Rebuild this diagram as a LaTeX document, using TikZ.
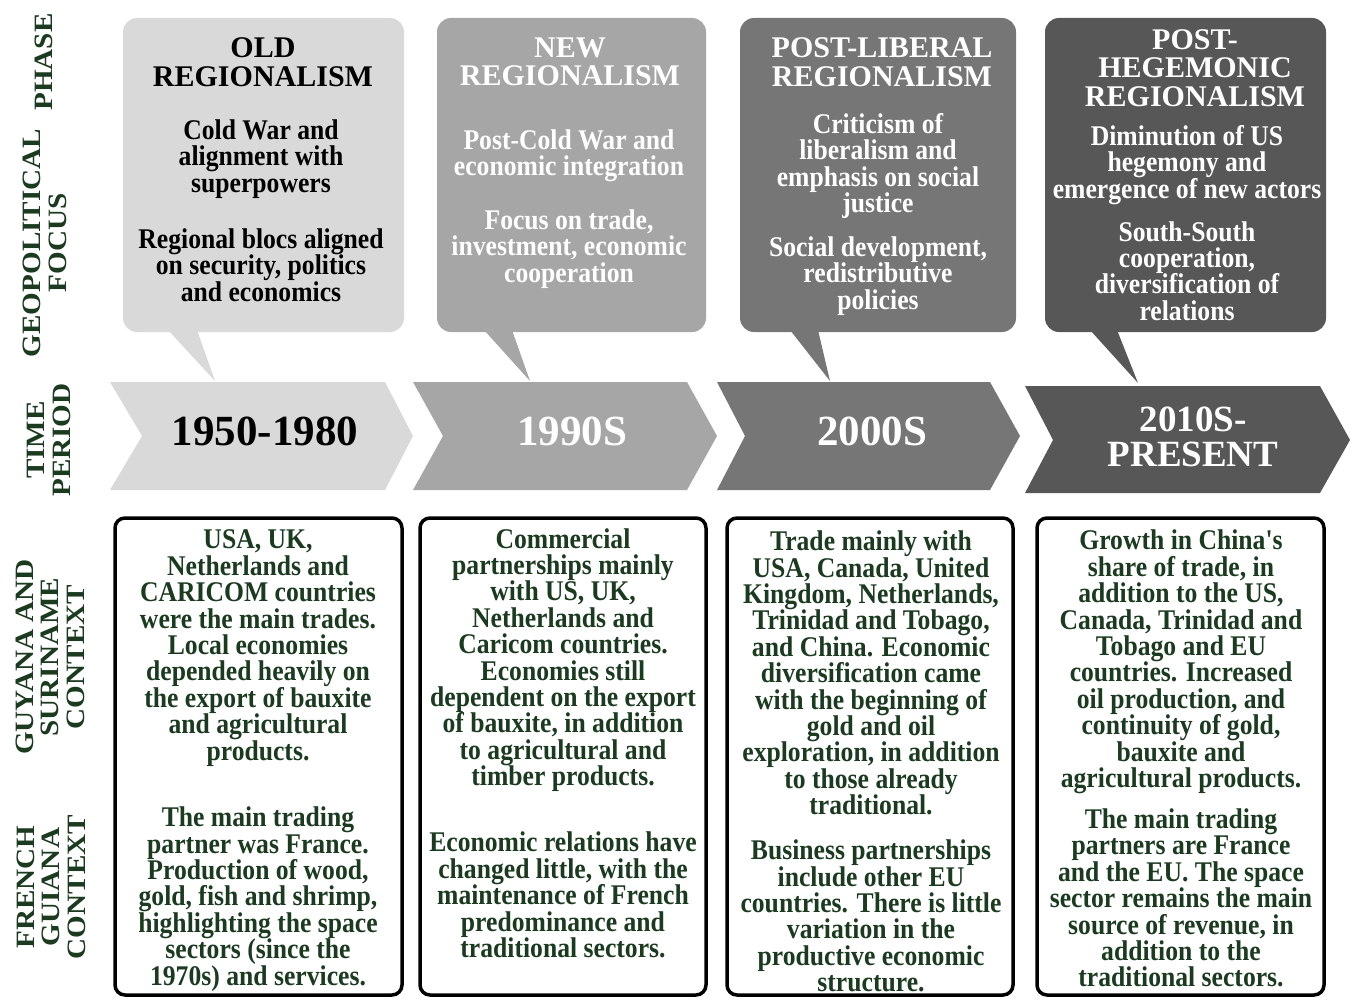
\documentclass[tikz,border=0pt]{standalone}
\usepackage{fontspec}
\setmainfont{Liberation Serif}
\newfontfamily\narrowserif[FakeStretch=0.9]{Liberation Serif}
\newfontfamily\wideserif[FakeStretch=1.1]{Liberation Serif}
\usepackage{xcolor}
\usepackage{tikz}
\definecolor{phaseA}{HTML}{D9D9D9}
\definecolor{phaseB}{HTML}{A6A6A6}
\definecolor{phaseC}{HTML}{767676}
\definecolor{phaseD}{HTML}{575757}
\definecolor{ctxgreen}{RGB}{27,58,32}
\tikzset{
    headtxt/.style={align=center, inner sep=0pt, font=\fontsize{30}{28.5}\selectfont\bfseries},
    bodytxt/.style={align=center, inner sep=0pt, font=\narrowserif\fontsize{28.5}{26.4}\selectfont\bfseries},
    yeartxt/.style={align=center, inner sep=0pt, font=\fontsize{43}{35}\selectfont\bfseries},
    sidelabel/.style={align=center, inner sep=0pt, rotate=90, text=ctxgreen, font=\wideserif\fontsize{26.5}{25.5}\selectfont\bfseries},
    ctxtxt/.style={bodytxt, text=ctxgreen},
    ctxbox/.style={line width=3.5pt, rounded corners=10pt}
}
\begin{document}
\begin{tikzpicture}[x=1pt, y=-1pt]
                \useasboundingbox (0,0) rectangle (1354,998);

                % row labels
                \node[sidelabel] (lblphase) at (44,62) {PHASE};
                \node[sidelabel] (lblfocus) at (45,243) {GEOPOLITICAL\\FOCUS};
                \node[sidelabel] (lbltime) at (49,440) {TIME\\PERIOD};
                \node[sidelabel] (lblguy) at (50,657) {GUYANA AND\\SURINAME\\CONTEXT};
                \node[sidelabel] (lblfg) at (51,887) {FRENCH\\GUIANA\\CONTEXT};

                % phase callouts
                \fill[phaseA, rounded corners=14pt] (123,18) rectangle (404,332);
                \fill[phaseA] (168,330) -- (215,381) -- (197,330) -- cycle;

                \fill[phaseB, rounded corners=14pt] (437,18) rectangle (706,332);
                \fill[phaseB] (484,330) -- (530,381) -- (512,330) -- cycle;

                \fill[phaseC, rounded corners=14pt] (740,18) rectangle (1016,332);
                \fill[phaseC] (790,330) -- (830,381) -- (818,330) -- cycle;

                \fill[phaseD, rounded corners=14pt] (1045,18) rectangle (1326,332);
                \fill[phaseD] (1090,330) -- (1138,383) -- (1117,330) -- cycle;

                \node[headtxt] (head1) at (263,62) {OLD\\REGIONALISM};
                \node[bodytxt] (focus1a) at (261,159) {Cold War and\\alignment with\\superpowers};
                \node[bodytxt] (focus1b) at (261,265) {Regional blocs aligned\\on security, politics\\and economics};

                \node[headtxt, white] (head2) at (570,62) {NEW\\REGIONALISM};
                \node[bodytxt, white] (focus2a) at (569,156) {Post-Cold War and\\economic integration};
                \node[bodytxt, white] (focus2b) at (569,249) {Focus on trade,\\investment, economic\\cooperation};

                \node[headtxt, white] (head3) at (882,62) {POST-LIBERAL\\REGIONALISM};
                \node[bodytxt, white] (focus3a) at (878,166) {Criticism of\\liberalism and\\emphasis on social\\justice};
                \node[bodytxt, white] (focus3b) at (878,276) {Social development,\\redistributive\\policies};

                \node[headtxt, white] (head4) at (1195,68) {POST-\\HEGEMONIC\\REGIONALISM};
                \node[bodytxt, white] (focus4a) at (1187,165) {Diminution of US\\hegemony and\\emergence of new actors};
                \node[bodytxt, white] (focus4b) at (1187,271) {South-South\\cooperation,\\diversification of\\relations};

                % time period chevrons
                \fill[phaseA] (110,382) -- (385,382) -- (413,436) -- (385,490) -- (110,490) -- (142,436) -- cycle;
                \fill[phaseB] (413,382) -- (687,382) -- (717,436) -- (687,490) -- (413,490) -- (443,436) -- cycle;
                \fill[phaseC] (717,382) -- (990,382) -- (1020,436) -- (990,490) -- (717,490) -- (745,436) -- cycle;
                \fill[phaseD] (1025,386) -- (1320,386) -- (1350,440) -- (1320,493) -- (1025,493) -- (1053,440) -- cycle;

                \node[yeartxt] (year1) at (265,431) {1950-1980};
                \node[yeartxt, white] (year2) at (572,431) {1990S};
                \node[yeartxt, white] (year3) at (872,431) {2000S};
                \node[yeartxt, white, font=\fontsize{37}{35}\selectfont\bfseries] (year4) at (1193,437) {2010S-\\PRESENT};

                % context boxes
                \draw[ctxbox] (115,518) rectangle (402,995);
                \draw[ctxbox] (420,518) rectangle (706,995);
                \draw[ctxbox] (727,518) rectangle (1013,995);
                \draw[ctxbox] (1037,518) rectangle (1324,995);

                \node[ctxtxt] (guy1) at (258,648) {USA, UK,\\Netherlands and\\CARICOM countries\\were the main trades.\\Local economies\\depended heavily on\\the export of bauxite\\and agricultural\\products.};
                \node[ctxtxt] (fg1) at (258,899) {The main trading\\partner was France.\\Production of wood,\\gold, fish and shrimp,\\highlighting the space\\sectors (since the\\1970s) and services.};

                \node[ctxtxt] (guy2) at (563,660) {Commercial\\partnerships mainly\\with US, UK,\\Netherlands and\\Caricom countries.\\Economies still\\dependent on the export\\of bauxite, in addition\\to agricultural and\\timber products.};
                \node[ctxtxt] (fg2) at (563,895) {Economic relations have\\changed little, with the\\maintenance of French\\predominance and\\traditional sectors.};

                \node[ctxtxt] (guy3) at (871,673) {Trade mainly with\\USA, Canada, United\\Kingdom, Netherlands,\\Trinidad and Tobago,\\and China. Economic\\diversification came\\with the beginning of\\gold and oil\\exploration, in addition\\to those already\\traditional.};
                \node[ctxtxt] (fg3) at (871,916) {Business partnerships\\include other EU\\countries. There is little\\variation in the\\productive economic\\structure.};

                \node[ctxtxt] (guy4) at (1181,662) {Growth in China's\\share of trade, in\\addition to the US,\\Canada, Trinidad and\\Tobago and EU\\countries. Increased\\oil production, and\\continuity of gold,\\bauxite and\\agricultural products.};
                \node[ctxtxt] (fg4) at (1181,898) {The main trading\\partners are France\\and the EU. The space\\sector remains the main\\source of revenue, in\\addition to the\\traditional sectors.};

            \end{tikzpicture}
\end{document}
